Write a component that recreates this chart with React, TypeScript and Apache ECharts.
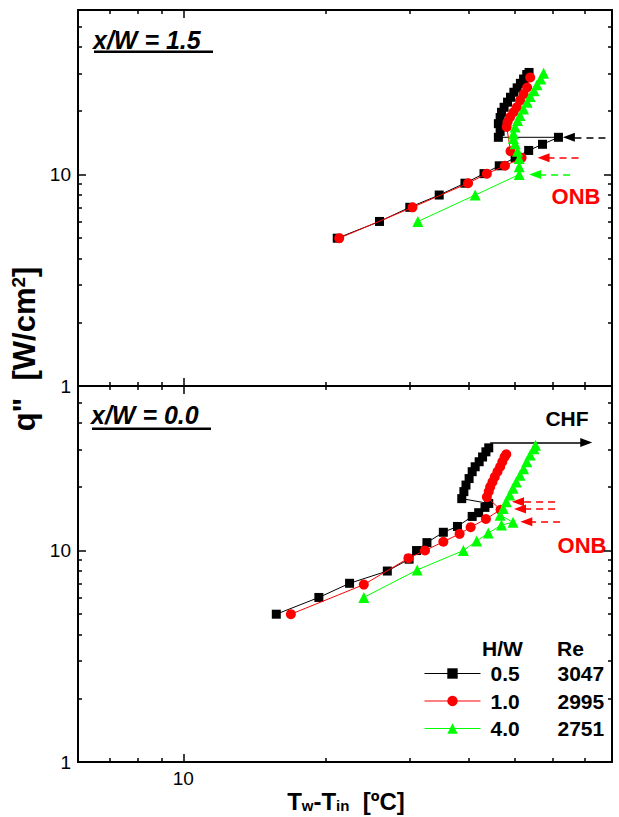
import React, { useEffect, useRef } from 'react';
import * as echarts from 'echarts';

// ---------- axis ranges & ticks ----------
const xMin = 6;
const xMax = 80;
const yMin = 1;
const yMax = 60;
const xMajorTicks = [10];
const xMinorTicks = [7, 8, 9, 20, 30, 40, 50, 60, 70];
const yMajorTicks = [1, 10];
const yMinorTicks = [2, 3, 4, 5, 6, 7, 8, 9, 20, 30, 40, 50];

// ---------- legend ----------
const seriesNames = ['0.5', '1.0', '4.0'];
const reynolds = ['3047', '2995', '2751'];

// ---------- top panel (x/W = 1.5) ----------
const blackTopX = [21.1, 25.9, 30.0, 34.6, 39.2, 43.0, 46.3, 50.0, 53.4, 57.1, 61.7, 46.1, 46.5, 46.1, 46.5, 46.8, 47.4, 48.2, 48.9, 49.7, 50.5, 51.3, 52.1, 52.9, 53.5];
const blackTopQ = [5, 6, 7, 8, 9.1, 10.1, 11, 12, 13, 13.9, 15, 15, 16, 17.4, 18.6, 19.7, 20.8, 22, 23.2, 24.5, 25.7, 27, 28.3, 29.7, 30.4];
const redTopX = [21.3, 30.4, 39.8, 43.6, 47.6, 51.6, 48.9, 48.0, 48.2, 48.8, 49.6, 50.4, 51.2, 52.1, 53.0, 53.8];
const redTopQ = [5, 7, 9.1, 10.1, 11, 12, 12.9, 16.8, 17.7, 18.7, 19.7, 20.8, 22.4, 24.0, 25.8, 28.8];
const greenTopX = [31.2, 41.2, 51.0, 51.0, 51.0, 50.6, 50.0, 49.6, 49.6, 50.0, 50.6, 51.2, 52.1, 53.0, 53.8, 54.8, 55.6, 56.6, 57.4];
const greenTopQ = [6, 8, 10, 10.9, 11.9, 12.9, 14, 14.8, 15.6, 16.8, 18, 19, 20.4, 22, 23.4, 24.9, 26.6, 28.3, 30.1];

// ---------- bottom panel (x/W = 0.0) ----------
const blackBotX = [15.7, 19.3, 22.4, 26.9, 29.9, 31.0, 32.6, 35.3, 37.8, 40.6, 41.9, 43.2, 44.0, 38.6, 39.0, 39.4, 40.0, 40.6, 41.2, 42.0, 42.7, 43.4, 44.0];
const blackBotQ = [5, 6, 7, 8, 9.1, 10, 10.9, 12.2, 13, 14.5, 15.1, 16, 16.7, 17.6, 19.0, 20.4, 21.9, 23.6, 24.9, 26.3, 27.7, 29.3, 30.6];
const redBotX = [16.85, 24.0, 29.8, 32.3, 35.3, 38.2, 40.3, 43.4, 46.6, 43.6, 44.0, 44.3, 44.8, 45.3, 45.9, 46.5, 47.0, 47.5, 47.9];
const redBotQ = [5, 6.9, 9.2, 10, 11, 12, 12.9, 14.1, 15.6, 17.9, 19.0, 20.0, 21.1, 22.3, 23.6, 24.9, 26.3, 27.7, 28.5];
const greenBotX = [24.0, 31.1, 38.9, 41.5, 43.9, 46.8, 49.5, 46.5, 47.2, 47.9, 48.7, 49.5, 50.3, 51.2, 52.1, 52.9, 53.8, 54.8, 55.2];
const greenBotQ = [6, 8.1, 10, 11.1, 12.1, 13.2, 13.6, 14.7, 15.8, 17.0, 18.3, 19.7, 21.1, 22.7, 24.4, 26.3, 28.3, 30.3, 31.5];

// ---------- ONB / CHF arrows (data units: q level, tail x, tip x) ----------
const onbArrowsTopQ = [15, 12, 10];
const onbArrowsTopFrom = [77.5, 68, 65.3];
const onbArrowsTopTo = [64.9, 57.4, 55.1];
const onbArrowsTopColor = ['#000000', '#ff0000', '#00ff00'];
const onbArrowsBotQ = [17, 15.7, 13.7];
const onbArrowsBotFrom = [60.7, 60.7, 62.2];
const onbArrowsBotTo = [50.7, 51.2, 52.8];
const chfArrowQ = 32.4;
const chfArrowFrom = 44.3;
const chfArrowTo = 70.6;

const FONT = '"Liberation Sans", Arial, Helvetica, sans-serif';
const COLORS = ['#000000', '#ff0000', '#00ff00'];
const SYMBOLS = ['rect', 'circle', 'triangle'];
const SYMSIZE = [9, 10, 11];

function zip(xs: number[], ys: number[]) {
  return xs.map((x, i) => [x, ys[i]]);
}

function buildAxes(grid: number, showXLabel: boolean) {
  const line = { show: true, onZero: false, lineStyle: { color: '#000', width: 2 } };
  const noLine = { show: false, onZero: false };
  const xBase = (position: string, ticks: number[], len: number, axisLine: any, label: boolean) => ({
    type: 'log',
    gridIndex: grid,
    position,
    min: xMin,
    max: xMax,
    axisLine,
    axisTick: { show: true, inside: true, length: len, customValues: ticks, lineStyle: { color: '#000', width: 1.5 } },
    axisLabel: label
      ? { show: true, customValues: xMajorTicks, formatter: (v: number) => String(Math.round(v)), color: '#000', fontSize: 19, fontFamily: FONT, margin: 7 }
      : { show: false },
    splitLine: { show: false },
    minorTick: { show: false },
  });
  const yBase = (position: string, ticks: number[], len: number, axisLine: any, label: boolean) => ({
    type: 'log',
    gridIndex: grid,
    position,
    min: yMin,
    max: yMax,
    axisLine,
    axisTick: { show: true, inside: true, length: len, customValues: ticks, lineStyle: { color: '#000', width: 1.5 } },
    axisLabel: label
      ? { show: true, customValues: yMajorTicks, formatter: (v: number) => String(Math.round(v)), color: '#000', fontSize: 19, fontFamily: FONT, margin: 7 }
      : { show: false },
    splitLine: { show: false },
    minorTick: { show: false },
  });
  const xAxes = [
    xBase('bottom', xMajorTicks, 8, line, showXLabel),
    xBase('bottom', xMinorTicks, 4, noLine, false),
    xBase('top', xMajorTicks, 8, line, false),
    xBase('top', xMinorTicks, 4, noLine, false),
  ];
  const yAxes = [
    yBase('left', yMajorTicks, 8, line, true),
    yBase('left', yMinorTicks, 4, noLine, false),
    yBase('right', yMajorTicks, 8, line, false),
    yBase('right', yMinorTicks, 4, noLine, false),
  ];
  return { xAxes, yAxes };
}

function arrowPair(q: number, from: number, to: number, color: string, dashed: boolean) {
  const lineStyle = { color, width: 1.5, type: dashed ? [7, 5] : 'solid' };
  return [
    { coord: [from, q], symbol: 'none', lineStyle },
    { coord: [to, q], symbol: 'triangle', symbolSize: [9, 12], lineStyle, itemStyle: { color } },
  ];
}

function lineSeries(idx: number, xs: number[], ys: number[], axisIndex: number, extra: any = {}) {
  return {
    type: 'line',
    name: seriesNames[idx],
    xAxisIndex: axisIndex,
    yAxisIndex: axisIndex,
    data: zip(xs, ys),
    symbol: SYMBOLS[idx],
    symbolSize: SYMSIZE[idx],
    showSymbol: true,
    itemStyle: { color: COLORS[idx] },
    lineStyle: { color: COLORS[idx], width: 1 },
    z: 3 + idx,
    ...extra,
  };
}

export default function App() {
  const ref = useRef<HTMLDivElement>(null);
  useEffect(() => {
    if (!ref.current) return;
    const chart = echarts.init(ref.current, undefined, { renderer: 'svg' });
    const a0 = buildAxes(0, false);
    const a1 = buildAxes(1, true);

    const topArrows = onbArrowsTopQ.map((q, i) => arrowPair(q, onbArrowsTopFrom[i], onbArrowsTopTo[i], onbArrowsTopColor[i], true));
    const botArrows = onbArrowsBotQ.map((q, i) => arrowPair(q, onbArrowsBotFrom[i], onbArrowsBotTo[i], '#ff0000', true));
    botArrows.push(arrowPair(chfArrowQ, chfArrowFrom, chfArrowTo, '#000000', false));

    const markLineBase = { silent: true, animation: false, label: { show: false }, symbol: ['none', 'none'] };

    const option: any = {
      animation: false,
      backgroundColor: '#ffffff',
      textStyle: { fontFamily: FONT },
      grid: [
        { left: 78, top: 10, width: 534, height: 376, containLabel: false },
        { left: 78, top: 386, width: 534, height: 376, containLabel: false },
      ],
      xAxis: [...a0.xAxes, ...a1.xAxes],
      yAxis: [...a0.yAxes, ...a1.yAxes],
      legend: {
        show: true,
        data: seriesNames,
        orient: 'vertical',
        left: 424,
        top: 663,
        itemWidth: 56,
        itemHeight: 13,
        itemGap: 6.5,
        padding: 0,
        selectedMode: false,
        lineStyle: { width: 1 },
        formatter: (name: string) => `{a|${name}}{b|${reynolds[seriesNames.indexOf(name)]}}`,
        textStyle: {
          color: '#000',
          fontFamily: FONT,
          rich: {
            a: { fontSize: 21, fontWeight: 'bold', width: 67, padding: [0, 0, 0, 5], lineHeight: 22, fontFamily: FONT },
            b: { fontSize: 21, fontWeight: 'bold', lineHeight: 22, fontFamily: FONT },
          },
        },
      },
      series: [
        lineSeries(0, blackTopX, blackTopQ, 0, { markLine: { ...markLineBase, data: topArrows } }),
        lineSeries(1, redTopX, redTopQ, 0),
        lineSeries(2, greenTopX, greenTopQ, 0),
        lineSeries(0, blackBotX, blackBotQ, 4, { markLine: { ...markLineBase, data: botArrows } }),
        lineSeries(1, redBotX, redBotQ, 4),
        lineSeries(2, greenBotX, greenBotQ, 4),
      ],
      graphic: [
        { type: 'text', x: 93, y: 40, style: { text: 'x/W = 1.5', fontSize: 25, fontWeight: 'bold', fontStyle: 'italic', fontFamily: FONT, fill: '#000', verticalAlign: 'middle' } },
        { type: 'rect', shape: { x: 94, y: 50.5, width: 119, height: 2.5 }, style: { fill: '#000' } },
        { type: 'text', x: 91, y: 415, style: { text: 'x/W = 0.0', fontSize: 25, fontWeight: 'bold', fontStyle: 'italic', fontFamily: FONT, fill: '#000', verticalAlign: 'middle' } },
        { type: 'rect', shape: { x: 92, y: 427.5, width: 119, height: 2.5 }, style: { fill: '#000' } },
        { type: 'text', x: 567, y: 418, style: { text: 'CHF', fontSize: 21, fontWeight: 'bold', fontFamily: FONT, fill: '#000', align: 'center', verticalAlign: 'middle' } },
        { type: 'text', x: 576, y: 196, style: { text: 'ONB', fontSize: 22, fontWeight: 'bold', fontFamily: FONT, fill: '#ff0000', align: 'center', verticalAlign: 'middle' } },
        { type: 'text', x: 582, y: 545, style: { text: 'ONB', fontSize: 22, fontWeight: 'bold', fontFamily: FONT, fill: '#ff0000', align: 'center', verticalAlign: 'middle' } },
        { type: 'text', x: 482, y: 648, style: { text: 'H/W', fontSize: 21, fontWeight: 'bold', fontFamily: FONT, fill: '#000', verticalAlign: 'middle' } },
        { type: 'text', x: 557, y: 648, style: { text: 'Re', fontSize: 21, fontWeight: 'bold', fontFamily: FONT, fill: '#000', verticalAlign: 'middle' } },
        {
          type: 'text',
          x: 24,
          y: 349,
          rotation: Math.PI / 2,
          style: {
            text: '{b|q"  [W/cm}{p|2}{b|]}',
            align: 'center',
            verticalAlign: 'middle',
            fill: '#000',
            rich: {
              b: { fontSize: 31, fontWeight: 'bold', fontFamily: FONT, lineHeight: 31, verticalAlign: 'bottom' },
              p: { fontSize: 19, fontWeight: 'bold', fontFamily: FONT, lineHeight: 19, verticalAlign: 'top' },
            },
          },
        },
        {
          type: 'text',
          x: 346,
          y: 801,
          style: {
            text: '{b|T}{s|w}{b|-T}{s|in}{b|  [ºC]}',
            align: 'center',
            verticalAlign: 'middle',
            fill: '#000',
            rich: {
              b: { fontSize: 24, fontWeight: 'bold', fontFamily: FONT, lineHeight: 24, verticalAlign: 'top' },
              s: { fontSize: 15, fontWeight: 'bold', fontFamily: FONT, lineHeight: 17, verticalAlign: 'bottom' },
            },
          },
        },
      ],
    };
    chart.setOption(option);
    return () => chart.dispose();
  }, []);
  return <div ref={ref} style={{ position: 'fixed', left: 0, top: 0, width: 619, height: 817 }} />;
}
